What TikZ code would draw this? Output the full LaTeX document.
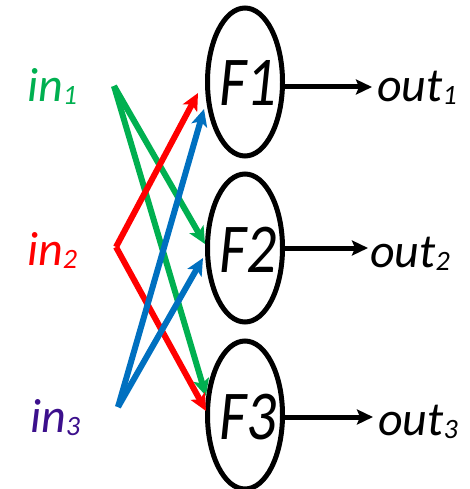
\documentclass[tikz,border=0pt]{standalone}
\usepackage{fontspec}
\setmainfont{Carlito}
\usetikzlibrary{arrows.meta,shapes.geometric}
\definecolor{ingreen}{RGB}{0,176,80}
\definecolor{inred}{RGB}{255,0,0}
\definecolor{inblue}{RGB}{0,112,192}
\definecolor{inpurple}{RGB}{60,16,140}
\newcommand{\subdig}[1]{{\fontsize{28}{28}\selectfont\raisebox{-3pt}{#1}}}
\newcommand{\ftxt}[1]{\scalebox{0.85}[1]{#1}}
\tikzset{
  fbox/.style={ellipse,draw=black,line width=5pt,minimum width=75pt,minimum height=148pt,inner sep=0pt},
  ftext/.style={anchor=base,inner sep=0pt,font=\fontsize{70}{70}\selectfont\itshape},
  lbl/.style={anchor=base west,inner sep=0pt,font=\fontsize{48}{48}\selectfont\itshape},
  conn/.style={line width=6pt,-{Stealth[length=17pt,width=16pt,inset=4pt]}},
  outarr/.style={line width=5pt,-{Stealth[length=16pt,width=15pt,inset=3pt]}}
}
\begin{document}
\begin{tikzpicture}[x=1pt,y=-1pt]
\useasboundingbox (0,0) rectangle (469,489);
% function ellipses
\node[fbox] (F1) at (245,82) {};
\node[fbox] (F2) at (245,248) {};
\node[fbox] (F3) at (245,415) {};
\node[ftext] (t1) at (248,106) {\ftxt{F1}};
\node[ftext] (t2) at (248,272) {\ftxt{F2}};
\node[ftext] (t3) at (248,439) {\ftxt{F3}};
% inputs
\node[lbl,text=ingreen] (in1) at (27,102) {in\subdig{1}};
\node[lbl,text=inred] (in2) at (27,265) {in\subdig{2}};
\node[lbl,text=inpurple] (in3) at (30,432) {in\subdig{3}};
% outputs
\node[lbl] (o1) at (377,102) {out\subdig{1}};
\node[lbl] (o2) at (370,267) {out\subdig{2}};
\node[lbl] (o3) at (378,435) {out\subdig{3}};
% connector endpoints
\coordinate (g) at (114,86);
\coordinate (r) at (116,247);
\coordinate (b) at (118,407);
\coordinate (gF2) at (205,244);
\coordinate (gF3) at (206,396);
\coordinate (rF1) at (198,93);
\coordinate (rF3) at (206,411);
\coordinate (bF1) at (204,109);
\coordinate (bF2) at (203,258);
\draw[conn,ingreen] (g) -- (gF2);
\draw[conn,ingreen] (g) -- (gF3);
\draw[conn,inred] (r) -- (rF1);
\draw[conn,inred] (r) -- (rF3);
\draw[conn,inblue] (b) -- (bF1);
\draw[conn,inblue] (b) -- (bF2);
% outputs arrows
\coordinate (e1) at (372,87);
\coordinate (e2) at (368,248);
\coordinate (e3) at (373,417);
\draw[outarr] (F1.east |- e1) -- (e1);
\draw[outarr] (F2.east |- e2) -- (e2);
\draw[outarr] (F3.east |- e3) -- (e3);
\end{tikzpicture}
\end{document}
